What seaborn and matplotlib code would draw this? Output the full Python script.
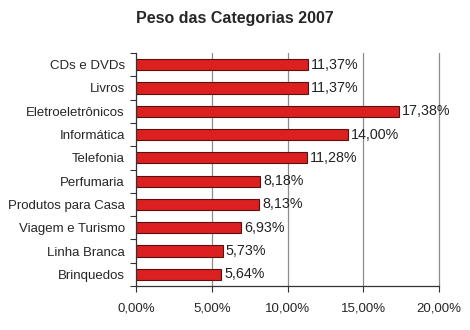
import matplotlib
matplotlib.use("Agg")
import matplotlib.pyplot as plt
import seaborn as sns
import pandas as pd
import numpy as np
from matplotlib.ticker import FuncFormatter, FixedLocator

categories = ["CDs e DVDs", "Livros", "Eletroeletrônicos", "Informática", "Telefonia",
              "Perfumaria", "Produtos para Casa", "Viagem e Turismo", "Linha Branca", "Brinquedos"]
values = [11.37, 11.37, 17.38, 14.00, 11.28, 8.18, 8.13, 6.93, 5.73, 5.64]
x_ticks = [0, 5, 10, 15, 20]

sns.set_style("white")
plt.rcParams['font.family'] = ['Liberation Sans', 'DejaVu Sans']

df = pd.DataFrame({"cat": categories, "val": values})

fig = plt.figure(figsize=(4.7, 3.3), dpi=100)
ax = fig.add_axes([136/470, 1-286/330, (439-136)/470, (286-53)/330])

for x in x_ticks[1:]:
    ax.axvline(x, color="#8c8c8c", lw=0.9, zorder=0, clip_on=False)

sns.barplot(data=df, y="cat", x="val", orient="h", color="#dc2020", saturation=1,
            edgecolor="#5a1010", linewidth=0.8, width=0.48, ax=ax, zorder=2)

for i, v in enumerate(values):
    ax.text(v + 0.2, i, f"{v:.2f}%".replace(".", ","), va="center", ha="left",
            fontsize=10.3, color="#222222")

ax.set_xlim(0, 20)
ax.set_ylim(len(categories) - 0.5, -0.5)
ax.set_xticks(x_ticks)
ax.xaxis.set_major_formatter(FuncFormatter(lambda v, p: f"{v:.2f}%".replace(".", ",")))
ax.set_xlabel("")
ax.set_ylabel("")
ax.tick_params(axis="x", length=4, width=0.8, color="#333333", labelsize=9.5, pad=8, bottom=True)
ax.tick_params(axis="y", which="major", length=0, labelsize=9.5, pad=8)
ax.yaxis.set_minor_locator(FixedLocator(np.arange(-0.5, len(categories), 1)))
ax.tick_params(axis="y", which="minor", length=4, width=0.8, color="#333333", left=True)
for s in ["top", "right"]:
    ax.spines[s].set_visible(False)
for s in ["left", "bottom"]:
    ax.spines[s].set_color("#333333")
    ax.spines[s].set_linewidth(0.9)

fig.text(0.5, 1-18/330, "Peso das Categorias 2007", ha="center", va="center",
         fontsize=11.5, fontweight="bold")

fig.savefig("out.png", dpi=100)
